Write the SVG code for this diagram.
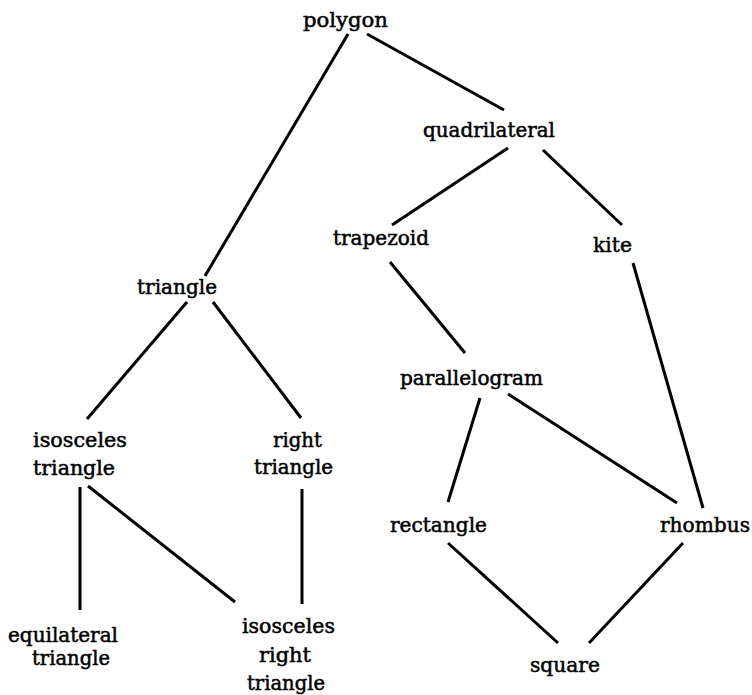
<svg xmlns="http://www.w3.org/2000/svg" width="752" height="695" viewBox="0 0 752 695">
<style>
text { font-family: "DejaVu Serif", "Liberation Serif", serif; font-size: 20px; fill: #000; stroke: #000; stroke-width: 0.5; }
.edge { stroke: #000; stroke-width: 3; stroke-linecap: butt; fill: none; }
</style>
<rect width="752" height="695" fill="#fff"/>
<g id="connectors">
<line class="edge" x1="348" y1="34" x2="205" y2="276"/>
<line class="edge" x1="367" y1="34" x2="504" y2="110"/>
<line class="edge" x1="508" y1="148" x2="392" y2="225"/>
<line class="edge" x1="543" y1="150" x2="622" y2="225"/>
<line class="edge" x1="187" y1="302" x2="87" y2="419"/>
<line class="edge" x1="213" y1="302" x2="301" y2="418"/>
<line class="edge" x1="390" y1="262" x2="465" y2="353"/>
<line class="edge" x1="633" y1="263" x2="703" y2="508"/>
<line class="edge" x1="480" y1="398" x2="448" y2="502"/>
<line class="edge" x1="508" y1="394" x2="677" y2="503"/>
<line class="edge" x1="80" y1="487" x2="80" y2="610"/>
<line class="edge" x1="88" y1="486" x2="235" y2="602"/>
<line class="edge" x1="302" y1="489" x2="302" y2="604"/>
<line class="edge" x1="448" y1="543" x2="558" y2="643"/>
<line class="edge" x1="683" y1="543" x2="589" y2="643"/>
</g>
<g id="polygon"><text x="303" y="27" textLength="85" lengthAdjust="spacingAndGlyphs">polygon</text></g>
<g id="quadrilateral"><text x="423" y="137" textLength="132" lengthAdjust="spacingAndGlyphs">quadrilateral</text></g>
<g id="trapezoid"><text x="333" y="245" textLength="96" lengthAdjust="spacingAndGlyphs">trapezoid</text></g>
<g id="kite"><text x="593" y="252" textLength="39" lengthAdjust="spacingAndGlyphs">kite</text></g>
<g id="triangle"><text x="137" y="294" textLength="80" lengthAdjust="spacingAndGlyphs">triangle</text></g>
<g id="parallelogram"><text x="400" y="385" textLength="143" lengthAdjust="spacingAndGlyphs">parallelogram</text></g>
<g id="isosceles-triangle">
<text x="33" y="447" textLength="94" lengthAdjust="spacingAndGlyphs">isosceles</text>
<text x="33" y="475" textLength="82" lengthAdjust="spacingAndGlyphs">triangle</text>
</g>
<g id="right-triangle">
<text x="273" y="447" textLength="49" lengthAdjust="spacingAndGlyphs">right</text>
<text x="254" y="474" textLength="79" lengthAdjust="spacingAndGlyphs">triangle</text>
</g>
<g id="rectangle"><text x="390" y="532" textLength="97" lengthAdjust="spacingAndGlyphs">rectangle</text></g>
<g id="rhombus"><text x="660" y="532" textLength="90" lengthAdjust="spacingAndGlyphs">rhombus</text></g>
<g id="equilateral-triangle">
<text x="8" y="642" textLength="110" lengthAdjust="spacingAndGlyphs">equilateral</text>
<text x="32" y="665" textLength="78" lengthAdjust="spacingAndGlyphs">triangle</text>
</g>
<g id="isosceles-right-triangle">
<text x="242" y="633" textLength="93" lengthAdjust="spacingAndGlyphs">isosceles</text>
<text x="259" y="662" textLength="52" lengthAdjust="spacingAndGlyphs">right</text>
<text x="247" y="690" textLength="78" lengthAdjust="spacingAndGlyphs">triangle</text>
</g>
<g id="square"><text x="530" y="672" textLength="70" lengthAdjust="spacingAndGlyphs">square</text></g>
</svg>
